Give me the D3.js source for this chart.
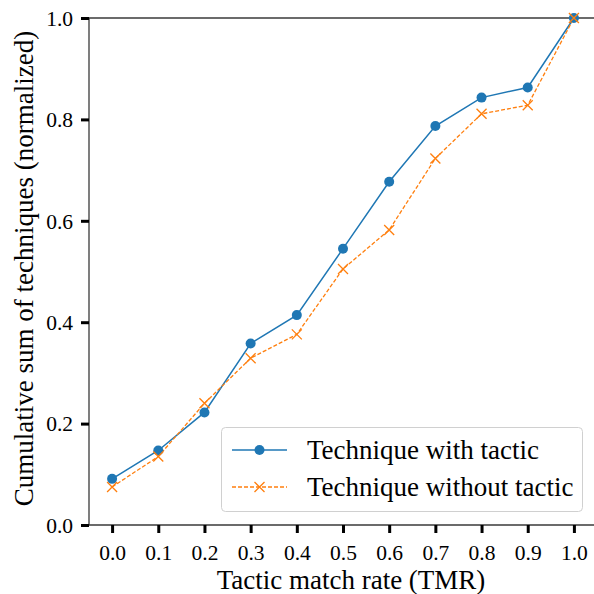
<!DOCTYPE html>
<html>
<head>
<meta charset="utf-8">
<script src="https://cdn.jsdelivr.net/npm/d3@7"></script>
<style>
  html, body { margin: 0; padding: 0; background: #fff; }
  svg { display: block; }
</style>
</head>
<body>
<svg id="chart" width="594" height="594"></svg>
<script>
// Tactic match rate buckets
const tmr = [0.0, 0.1, 0.2, 0.3, 0.4, 0.5, 0.6, 0.7, 0.8, 0.9, 1.0];
// Normalized cumulative counts
const withTactic    = [0.091, 0.147, 0.222, 0.358, 0.414, 0.545, 0.677, 0.787, 0.843, 0.863, 1.0];
const withoutTactic = [0.075, 0.135, 0.240, 0.329, 0.376, 0.505, 0.582, 0.723, 0.811, 0.828, 1.0];
const xTicks = [0.0, 0.1, 0.2, 0.3, 0.4, 0.5, 0.6, 0.7, 0.8, 0.9, 1.0];
const yTicks = [0.0, 0.2, 0.4, 0.6, 0.8, 1.0];
const seriesNames = ["Technique with tactic", "Technique without tactic"];

const FONT = '"Liberation Serif"';
const svg = d3.select("#chart");
const plotLeft = 89, plotTop = 18, plotBottom = 525, plotRight = 597;

const x = d3.scaleLinear().domain([-0.05, 1.05]).range([plotLeft, plotRight]);
const y = d3.scaleLinear().domain([0, 1]).range([plotBottom, plotTop]);

// Spines (right spine falls outside the canvas)
const spine = svg.append("g").attr("stroke", "#3a3a3a").attr("stroke-width", 1.3);
spine.append("line").attr("x1", plotLeft).attr("x2", plotRight).attr("y1", plotTop).attr("y2", plotTop);
spine.append("line").attr("x1", plotLeft).attr("x2", plotLeft).attr("y1", plotTop).attr("y2", plotBottom);
spine.append("line").attr("x1", plotLeft).attr("x2", plotRight).attr("y1", plotBottom).attr("y2", plotBottom);

// Axes
const xAxis = svg.append("g")
  .attr("transform", `translate(0,${plotBottom})`)
  .call(d3.axisBottom(x).tickValues(xTicks).tickFormat(d3.format(".1f")).tickSize(8).tickPadding(12));
const yAxis = svg.append("g")
  .attr("transform", `translate(${plotLeft},0)`)
  .call(d3.axisLeft(y).tickValues(yTicks).tickFormat(d3.format(".1f")).tickSize(8).tickPadding(8));
[xAxis, yAxis].forEach(g => {
  g.select(".domain").remove();
  g.selectAll(".tick line").attr("stroke", "#000").attr("stroke-width", 3);
  g.selectAll(".tick text")
    .style("font-family", FONT)
    .style("font-size", "21.5px").attr("fill", "#000");
});
yAxis.selectAll(".tick text").attr("dy", "0.34em");

// Axis titles
svg.append("text")
  .attr("x", 351)
  .attr("y", 589)
  .attr("text-anchor", "middle")
  .style("font-family", FONT).style("font-size", "27px")
  .text("Tactic match rate (TMR)");
svg.append("text")
  .attr("transform", "translate(33,268.5) rotate(-90)")
  .attr("text-anchor", "middle")
  .style("font-family", FONT).style("font-size", "27px")
  .text("Cumulative sum of techniques (normalized)");

// Lines
const line = d3.line().x((d, i) => x(tmr[i])).y(d => y(d));
svg.append("path").datum(withTactic)
  .attr("d", line).attr("fill", "none")
  .attr("stroke", "#1f77b4").attr("stroke-width", 1.5);
svg.append("path").datum(withoutTactic)
  .attr("d", line).attr("fill", "none")
  .attr("stroke", "#ff7f0e").attr("stroke-width", 1.3).attr("stroke-dasharray", "4,2");

// Markers
svg.append("g").selectAll("circle").data(withTactic).join("circle")
  .attr("cx", (d, i) => x(tmr[i])).attr("cy", d => y(d))
  .attr("r", 5).attr("fill", "#1f77b4");

const cross = (g, cx, cy, s, color) => {
  g.append("path")
    .attr("d", `M${cx - s},${cy - s}L${cx + s},${cy + s}M${cx - s},${cy + s}L${cx + s},${cy - s}`)
    .attr("stroke", color).attr("stroke-width", 1.3).attr("fill", "none");
};
const xg = svg.append("g");
withoutTactic.forEach((d, i) => cross(xg, x(tmr[i]), y(d), 5, "#ff7f0e"));

// Legend
const lg = svg.append("g");
lg.append("rect")
  .attr("x", 221.5).attr("y", 427.5).attr("width", 361).attr("height", 84)
  .attr("rx", 4).attr("ry", 4)
  .attr("fill", "rgba(255,255,255,0.8)").attr("stroke", "#d0d0d0").attr("stroke-width", 1);
const rows = [450, 487];
lg.append("line").attr("x1", 232).attr("x2", 287).attr("y1", rows[0]).attr("y2", rows[0])
  .attr("stroke", "#1f77b4").attr("stroke-width", 1.5);
lg.append("circle").attr("cx", 259.5).attr("cy", rows[0]).attr("r", 5).attr("fill", "#1f77b4");
lg.append("line").attr("x1", 232).attr("x2", 287).attr("y1", rows[1]).attr("y2", rows[1])
  .attr("stroke", "#ff7f0e").attr("stroke-width", 1.3).attr("stroke-dasharray", "4,2");
cross(lg, 259.5, rows[1], 5, "#ff7f0e");
seriesNames.forEach((name, i) => {
  lg.append("text").attr("x", 307).attr("y", rows[i]).attr("dy", "0.35em")
    .style("font-family", FONT).style("font-size", "27px").text(name);
});
</script>
</body>
</html>
